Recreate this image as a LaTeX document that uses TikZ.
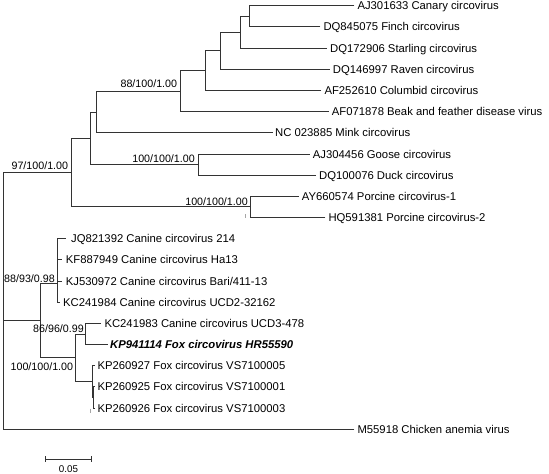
\documentclass[tikz,border=0pt]{standalone}
\usepackage{fontspec}
\setmainfont{Liberation Sans}
\begin{document}
\begin{tikzpicture}[x=1pt,y=-1pt,
  br/.style={draw=black!80, line width=0.9pt},
  tiplabel/.style={anchor=base west, inner sep=0pt, font=\fontsize{11.3}{13}\selectfont},
  lbl/.style={anchor=base east, inner sep=0pt, font=\fontsize{10.7}{12}\selectfont},
  faint/.style={draw=black!35, line width=0.5pt}]
\useasboundingbox (0,0) rectangle (549,474);

% ---- leaves: tip coordinates and text nodes ----
\coordinate (tCanary) at (354.3,5.7);   \node[tiplabel] (Canary) at (357.3,9.7) {AJ301633 Canary circovirus};
\coordinate (tFinch) at (320.3,26.9);   \node[tiplabel] (Finch) at (323.3,30.9) {DQ845075 Finch circovirus};
\coordinate (tStarling) at (327,48.1);  \node[tiplabel] (Starling) at (330,52.1) {DQ172906 Starling circovirus};
\coordinate (tRaven) at (329.7,69.2);   \node[tiplabel] (Raven) at (332.7,73.2) {DQ146997 Raven circovirus};
\coordinate (tColumbid) at (321.3,90.4);\node[tiplabel] (Columbid) at (324.3,94.4) {AF252610 Columbid circovirus};
\coordinate (tBeak) at (328.7,111.6);   \node[tiplabel] (Beak) at (331.7,115.6) {AF071878 Beak and feather disease virus};
\coordinate (tMink) at (272.5,132.8);   \node[tiplabel] (Mink) at (275,136.8) {NC 023885 Mink circovirus};
\coordinate (tGoose) at (309.7,154.0);  \node[tiplabel] (Goose) at (312.7,158.0) {AJ304456 Goose circovirus};
\coordinate (tDuck) at (316,175.1);     \node[tiplabel] (Duck) at (319,179.1) {DQ100076 Duck circovirus};
\coordinate (tAY) at (298.7,196.3);     \node[tiplabel] (AY) at (301.7,200.3) {AY660574 Porcine circovirus-1};
\coordinate (tHQ) at (325.3,217.5);     \node[tiplabel] (HQ) at (328.3,221.5) {HQ591381 Porcine circovirus-2};
\coordinate (tJQ) at (65.5,238.7);      \node[tiplabel] (JQ) at (71,242.7) {JQ821392 Canine circovirus 214};
\coordinate (tKF) at (61.5,259.9);      \node[tiplabel] (KF) at (65.7,263.9) {KF887949 Canine circovirus Ha13};
\coordinate (tKJ) at (61.5,281.0);      \node[tiplabel] (KJ) at (65.7,285.0) {KJ530972 Canine circovirus Bari/411-13};
\coordinate (tKCa) at (60,302.2);       \node[tiplabel] (KCa) at (63,306.2) {KC241984 Canine circovirus UCD2-32162};
\coordinate (tKCb) at (101,323.4);      \node[tiplabel] (KCb) at (104.3,327.4) {KC241983 Canine circovirus UCD3-478};
\coordinate (tKP94) at (107.5,344.6);   \node[tiplabel] (KP94) at (110,348.6) {\bfseries\itshape KP941114 Fox circovirus HR55590};
\coordinate (tKP27) at (95,365.8);      \node[tiplabel] (KP27) at (97.3,369.8) {KP260927 Fox circovirus VS7100005};
\coordinate (tKP25) at (95,386.9);      \node[tiplabel] (KP25) at (97.3,390.9) {KP260925 Fox circovirus VS7100001};
\coordinate (tKP26) at (95,408.1);      \node[tiplabel] (KP26) at (97.3,412.1) {KP260926 Fox circovirus VS7100003};
\coordinate (tM55) at (354.3,429.3);    \node[tiplabel] (M55) at (357.3,433.3) {M55918 Chicken anemia virus};

% ---- internal nodes ----
\coordinate (nCF) at (249.3,16.3);
\coordinate (nS) at (240.7,32.2);
\coordinate (nR) at (220,50.7);
\coordinate (nCo) at (205,70.55);
\coordinate (nB) at (180.7,91.1);
\coordinate (nM) at (96,111.95);
\coordinate (nGD) at (198.3,164.55);
\coordinate (nMG) at (90.7,138.25);
\coordinate (nP) at (250.7,206.9);
\coordinate (nTop) at (71.7,172.6);
\coordinate (n1) at (57.3,249.3);
\coordinate (n2) at (57.3,265.2);
\coordinate (n3) at (57.3,283.7);
\coordinate (nKK) at (85,334);
\coordinate (nVSi) at (93.3,397.5);
\coordinate (nVS) at (92.3,381.65);
\coordinate (nFox) at (75.7,357.8);
\coordinate (nCan) at (40,320.75);
\coordinate (root) at (3.5,320.75);

% ---- branches ----
\draw[br] (tCanary) -| (nCF);  \draw[br] (tFinch) -| (nCF);
\draw[br] (nCF) -| (nS);       \draw[br] (tStarling) -| (nS);
\draw[br] (nS) -| (nR);        \draw[br] (tRaven) -| (nR);
\draw[br] (nR) -| (nCo);       \draw[br] (tColumbid) -| (nCo);
\draw[br] (nCo) -| (nB);       \draw[br] (tBeak) -| (nB);
\draw[br] (nB) -| (nM);        \draw[br] (tMink) -| (nM);
\draw[br] (nM) -| (nMG);       \draw[br] (nGD) -| (nMG);
\draw[br] (tGoose) -| (nGD);   \draw[br] (tDuck) -| (nGD);
\draw[br] (nMG) -| (nTop);     \draw[br] (nP) -| (nTop);
\draw[br] (tAY) -| (nP);       \draw[br] (tHQ) -| (nP);
\draw[br] (nTop) -| (root);
\draw[br] (tJQ) -| (n1);       \draw[br] (tKF) -| (n1);
\draw[br] (n1) -| (n2);        \draw[br] (tKJ) -| (n2);
\draw[br] (n2) -| (n3);        \draw[br] (tKCa) -| (n3);
\draw[br] (n3) -| (nCan);      \draw[br] (nFox) -| (nCan);
\draw[br] (nCan) -| (root);
\draw[br] (tKCb) -| (nKK);     \draw[br] (tKP94) -| (nKK);
\draw[br] (nKK) -| (nFox);     \draw[br] (nVS) -| (nFox);
\draw[br] (tKP27) -| (nVS);    \draw[br] (nVSi) -| (nVS);
\draw[br] (tKP25) -| (nVSi);   \draw[br] (tKP26) -| (nVSi);
\draw[br] (tM55) -| (root);

% ---- support values ----
\node[lbl] (sTop) at ([xshift=-3.4pt,yshift=2.8pt]nTop) {97/100/1.00};
\node[lbl] (sB) at ([xshift=-3.4pt,yshift=3.3pt]nB) {88/100/1.00};
\node[lbl] (sGD) at ([xshift=-3.3pt,yshift=2.5pt]nGD) {100/100/1.00};
\node[lbl] (sP) at ([xshift=-2.7pt,yshift=1.5pt]nP) {100/100/1.00};
\node[lbl] (s3) at ([xshift=-2.3pt,yshift=1pt]n3) {88/93/0.98};
\node[lbl] (sKK) at ([xshift=-1pt,yshift=1.5pt]nKK) {86/96/0.99};
\node[lbl] (sFox) at ([xshift=-2.4pt,yshift=-12.7pt]nFox) {100/100/1.00};

% ---- faint marks ----
\coordinate (fa1) at (245,214); \coordinate (fa2) at (245,217.5);
\draw[faint] (fa1) -- (fa2);
\coordinate (fb1) at (90.5,408.5); \coordinate (fb2) at (90.5,412.5);
\draw[faint] (fb1) -- (fb2);

% ---- scale bar ----
\coordinate (sbL) at (45,459.3);
\coordinate (sbR) at (91,459.3);
\draw[br] (sbL) -- (sbR);
\draw[br] ([yshift=3pt]sbL) -- ([yshift=-3pt]sbL);
\draw[br] ([yshift=3pt]sbR) -- ([yshift=-3pt]sbR);
\node[anchor=base, inner sep=0pt, font=\fontsize{9.8}{11}\selectfont] (sbT) at (68.5,472.8) {0.05};
\end{tikzpicture}
\end{document}
